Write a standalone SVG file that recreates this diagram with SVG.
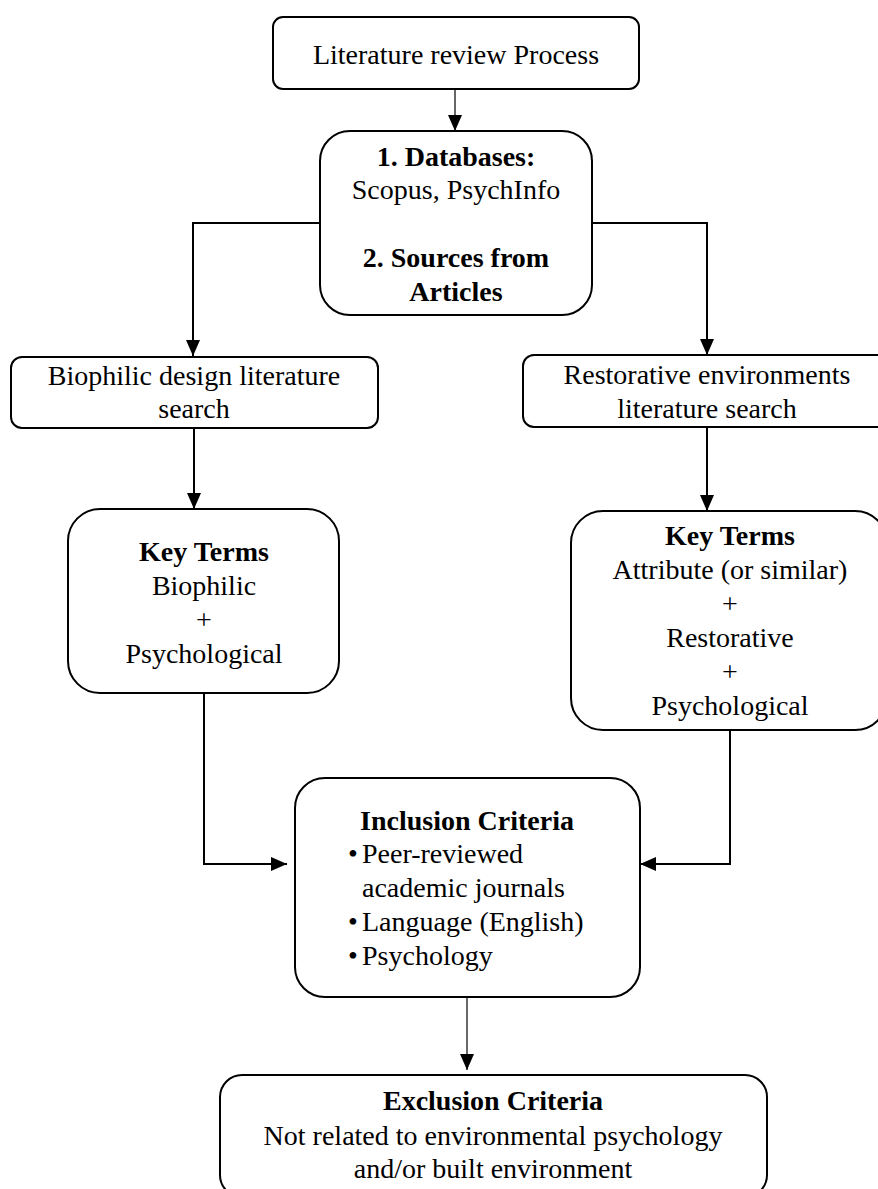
<svg xmlns="http://www.w3.org/2000/svg" width="878" height="1189" viewBox="0 0 878 1189">
<style>
.box{fill:#fff;stroke:#000;stroke-width:2}
.t{font-family:"Liberation Serif","Times New Roman",serif;font-size:28px;fill:#000;text-anchor:middle}
.b{font-weight:bold}
.l{text-anchor:start}
.c{fill:none;stroke:#000;stroke-width:2}
.thin{stroke-width:1.2}
</style>
<defs>
<marker id="ah" markerUnits="userSpaceOnUse" markerWidth="16" markerHeight="14" refX="16" refY="7" orient="auto">
<path d="M0,0 L16,7 L0,14 z" fill="#000"/>
</marker>
</defs>
<rect width="878" height="1189" fill="#fff"/>
<g id="connectors">
<path class="c thin" d="M455,89 V131" marker-end="url(#ah)"/>
<path class="c" d="M320,223 H193 V356" marker-end="url(#ah)"/>
<path class="c" d="M592,223 H707 V355" marker-end="url(#ah)"/>
<path class="c" d="M194,428 V509" marker-end="url(#ah)"/>
<path class="c" d="M707,427 V511" marker-end="url(#ah)"/>
<path class="c" d="M204,693 V864 H287" marker-end="url(#ah)"/>
<path class="c" d="M730,730 V864 H640" marker-end="url(#ah)"/>
<path class="c thin" d="M467,997 V1070" marker-end="url(#ah)"/>
</g>
<g id="n1">
<rect class="box" x="273" y="17" width="366" height="72" rx="10"/>
<text class="t" x="456" y="64">Literature review Process</text>
</g>
<g id="n2">
<rect class="box" x="320" y="131" width="272" height="184" rx="30"/>
<text class="t b" x="456" y="166">1. Databases:</text>
<text class="t" x="456" y="199">Scopus, PsychInfo</text>
<text class="t b" x="456" y="267">2. Sources from</text>
<text class="t b" x="456" y="301">Articles</text>
</g>
<g id="n3">
<rect class="box" x="11" y="357" width="367" height="71" rx="11"/>
<text class="t" x="194" y="385">Biophilic design literature</text>
<text class="t" x="194" y="418">search</text>
</g>
<g id="n4">
<rect class="box" x="523" y="355" width="366" height="72" rx="11"/>
<text class="t" x="707" y="384">Restorative environments</text>
<text class="t" x="707" y="418">literature search</text>
</g>
<g id="n5">
<rect class="box" x="68" y="509" width="271" height="184" rx="32"/>
<text class="t b" x="204" y="561">Key Terms</text>
<text class="t" x="204" y="595">Biophilic</text>
<text class="t" x="204" y="629">+</text>
<text class="t" x="204" y="663">Psychological</text>
</g>
<g id="n6">
<rect class="box" x="571" y="511" width="316" height="219" rx="32"/>
<text class="t b" x="730" y="545">Key Terms</text>
<text class="t" x="730" y="579">Attribute (or similar)</text>
<text class="t" x="730" y="613">+</text>
<text class="t" x="730" y="647">Restorative</text>
<text class="t" x="730" y="681">+</text>
<text class="t" x="730" y="715">Psychological</text>
</g>
<g id="n7">
<rect class="box" x="295" y="778" width="345" height="219" rx="30"/>
<text class="t b" x="467" y="830">Inclusion Criteria</text>
<text class="t" x="353" y="863">•</text>
<text class="t l" x="362" y="863">Peer-reviewed</text>
<text class="t l" x="362" y="897">academic journals</text>
<text class="t" x="353" y="931">•</text>
<text class="t l" x="362" y="931">Language (English)</text>
<text class="t" x="353" y="965">•</text>
<text class="t l" x="362" y="965">Psychology</text>
</g>
<g id="n8">
<rect class="box" x="220" y="1075" width="547" height="122" rx="22"/>
<text class="t b" x="493" y="1110">Exclusion Criteria</text>
<text class="t" x="493" y="1145">Not related to environmental psychology</text>
<text class="t" x="493" y="1178">and/or built environment</text>
</g>
</svg>
